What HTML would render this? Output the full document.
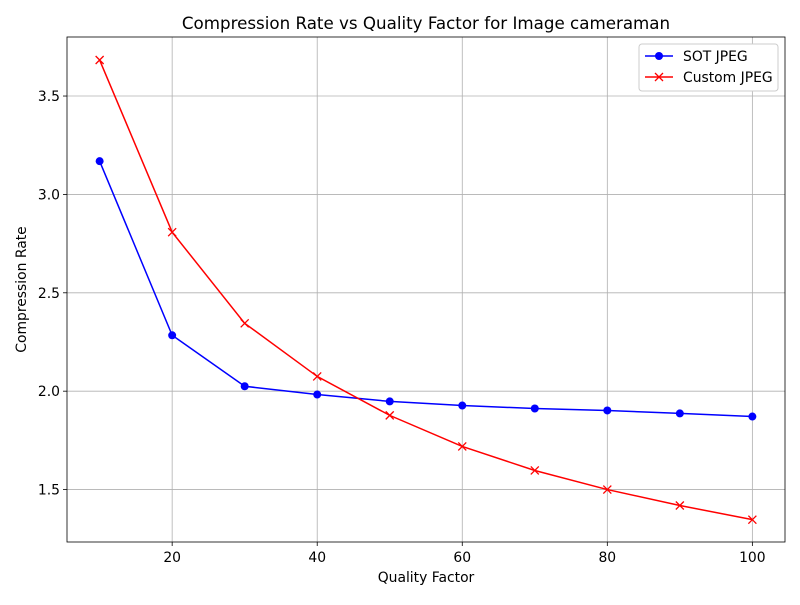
<!DOCTYPE html>
<html><head><meta charset="utf-8"><style>
body{margin:0;background:#fff;}
svg text{font-family:"DejaVu Sans","Liberation Sans",sans-serif;fill:#000;}
</style></head><body>
<svg id="chart" width="800" height="600" xmlns="http://www.w3.org/2000/svg"></svg>
<script>
const qualities=[10,20,30,40,50,60,70,80,90,100];
const sotJpeg=[3.169,2.284,2.025,1.983,1.948,1.927,1.912,1.902,1.887,1.871];
const customJpeg=[3.683,2.808,2.345,2.075,1.877,1.719,1.597,1.5,1.419,1.347];
const xTicks=[20,40,60,80,100];
const yTicks=[1.5,2.0,2.5,3.0,3.5];

const L=67,R=785,T=37,B=542;
const xMin=5.5,xMax=104.5,yMin=1.2335,yMax=3.8;
const xs=v=>L+(v-xMin)/(xMax-xMin)*(R-L);
const ys=v=>B-(v-yMin)/(yMax-yMin)*(B-T);
const svg=document.getElementById('chart');
const NS='http://www.w3.org/2000/svg';
function mk(tag,attrs,parent){const e=document.createElementNS(NS,tag);for(const k in attrs)e.setAttribute(k,attrs[k]);(parent||svg).appendChild(e);return e;}

const grid=mk('g',{});


xTicks.forEach(v=>{
  const x=xs(v);
  mk('line',{x1:x,x2:x,y1:T,y2:B,stroke:'#b0b0b0','stroke-width':0.8},grid);
  mk('line',{x1:x,x2:x,y1:B,y2:B+4,stroke:'#000','stroke-width':0.8});
  const t=mk('text',{x:x,y:B+20,'font-size':13.9,'text-anchor':'middle'});
  t.textContent=v;
  
  
});
yTicks.forEach(v=>{
  const y=ys(v);
  mk('line',{x1:L,x2:R,y1:y,y2:y,stroke:'#b0b0b0','stroke-width':0.8},grid);
  mk('line',{x1:L-4,x2:L,y1:y,y2:y,stroke:'#000','stroke-width':0.8});
  const t=mk('text',{x:L-7,y:y+5,'font-size':13.9,'text-anchor':'end'});
  t.textContent=v.toFixed(1);
  
  
});
const frame=mk('rect',{x:L,y:T,width:R-L,height:B-T,fill:'none',stroke:'#000','stroke-width':0.8});



function series(vals,color,marker,name){
  const g=mk('g',{});
  
  
  mk('polyline',{points:vals.map((v,i)=>xs(qualities[i])+','+ys(v)).join(' '),fill:'none',stroke:color,'stroke-width':1.5},g);
  vals.forEach((v,i)=>{
    const x=xs(qualities[i]),y=ys(v);
    let m;
    if(marker==='o'){m=mk('circle',{cx:x,cy:y,r:4,fill:color},g);}
    else{m=mk('path',{d:`M${x-4},${y-4}L${x+4},${y+4}M${x-4},${y+4}L${x+4},${y-4}`,stroke:color,'stroke-width':1.3},g);}
    
    
  });
}
series(sotJpeg,'#0000ff','o','sot-jpeg-series');
series(customJpeg,'#ff0000','x','custom-jpeg-series');

const title=mk('text',{x:(L+R)/2,y:29,'font-size':16.7,'text-anchor':'middle'});
title.textContent='Compression Rate vs Quality Factor for Image cameraman';


const xl=mk('text',{x:(L+R)/2,y:582,'font-size':13.9,'text-anchor':'middle'});
xl.textContent='Quality Factor';


const yl=mk('text',{x:0,y:0,'font-size':13.9,'text-anchor':'middle',transform:`translate(26,${(T+B)/2}) rotate(-90)`});
yl.textContent='Compression Rate';



const lg=mk('g',{});


mk('rect',{x:639,y:44,width:139,height:47,rx:3,fill:'#fff',stroke:'#ccc','stroke-width':1},lg);
mk('line',{x1:645,x2:673,y1:56,y2:56,stroke:'#0000ff','stroke-width':1.5},lg);
mk('circle',{cx:659,cy:56,r:4,fill:'#0000ff'},lg);
const t1=mk('text',{x:683,y:61,'font-size':13.9},lg);t1.textContent='SOT JPEG';


mk('line',{x1:645,x2:673,y1:77,y2:77,stroke:'#ff0000','stroke-width':1.5},lg);
mk('path',{d:'M655,73L663,81M655,81L663,73',stroke:'#ff0000','stroke-width':1.3},lg);
const t2=mk('text',{x:683,y:82,'font-size':13.9},lg);t2.textContent='Custom JPEG';


</script>
</body></html>
